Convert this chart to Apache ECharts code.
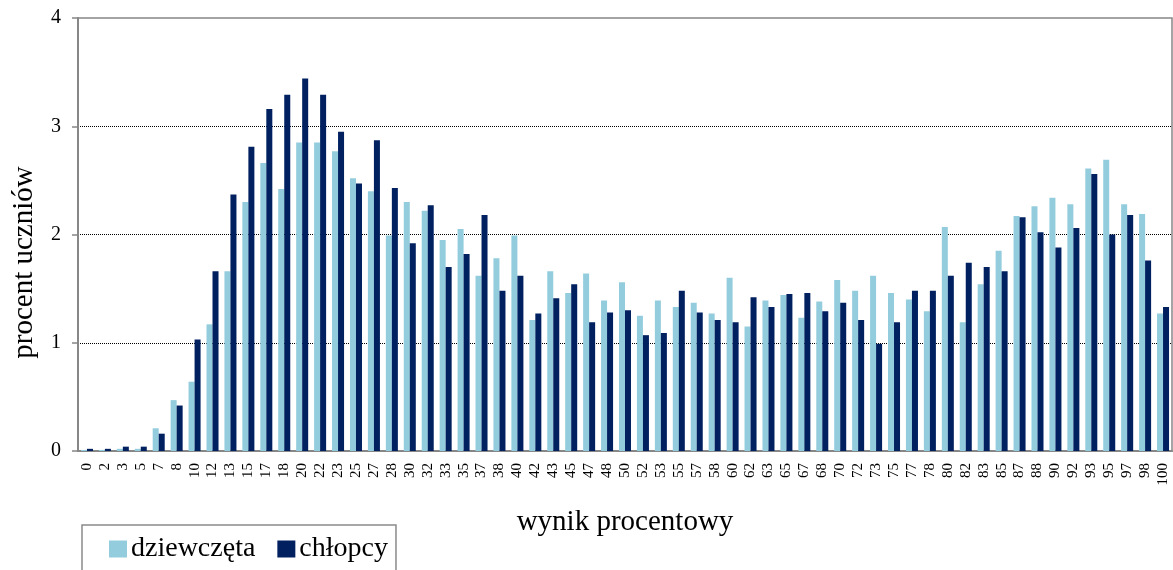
<!DOCTYPE html>
<html>
<head>
<meta charset="utf-8">
<script src="https://cdn.jsdelivr.net/npm/echarts@6/dist/echarts.min.js"></script>
<style>
  html, body { margin: 0; padding: 0; background: #fff; }
  #chart { width: 1173px; height: 570px; }
</style>
</head>
<body>
<div id="chart"></div>
<script>
// wynik procentowy (kategorie osi X)
const categories = ['0','2','3','5','7','8','10','12','13','15','17','18','20','22','23','25','27','28','30','32',
  '33','35','37','38','40','42','43','45','47','48','50','52','53','55','57','58','60','62','63','65',
  '67','68','70','72','73','75','77','78','80','82','83','85','87','88','90','92','93','95','97','98','100'];

// procent uczniów
const dziewczeta = [0.01,0.01,0.02,0.02,0.21,0.47,0.64,1.17,1.66,2.30,2.66,2.42,2.85,2.85,2.77,2.52,2.40,1.99,2.30,2.22,
  1.95,2.05,1.62,1.78,1.99,1.21,1.66,1.46,1.64,1.39,1.56,1.25,1.39,1.33,1.37,1.27,1.60,1.15,1.39,1.44,
  1.23,1.38,1.58,1.48,1.62,1.46,1.40,1.29,2.07,1.19,1.54,1.85,2.17,2.26,2.34,2.28,2.61,2.69,2.28,2.19,1.27];
const chlopcy = [0.02,0.02,0.04,0.04,0.16,0.42,1.03,1.66,2.37,2.81,3.16,3.29,3.44,3.29,2.95,2.47,2.87,2.43,1.92,2.27,
  1.70,1.82,2.18,1.48,1.62,1.27,1.41,1.54,1.19,1.28,1.30,1.07,1.09,1.48,1.28,1.21,1.19,1.42,1.33,1.45,
  1.46,1.29,1.37,1.21,0.99,1.19,1.48,1.48,1.62,1.74,1.70,1.66,2.16,2.02,1.88,2.06,2.56,2.00,2.18,1.76,1.33];

const yTicks = [0, 1, 2, 3, 4];

const serif = 'Liberation Serif';
const axisGray = '#878787';

const chart = echarts.init(document.getElementById('chart'));
chart.setOption({
  animation: false,
  grid: {
    left: 78,
    right: 1,
    top: 18,
    bottom: 119,
    show: true,
    borderColor: axisGray,
    borderWidth: 1.5
  },
  legend: {
    left: 82,
    top: 525,
    padding: [10, 8, 30, 27],
    borderColor: '#8a8a8a',
    borderWidth: 1.5,
    itemWidth: 18,
    itemHeight: 17,
    itemGap: 22,
    icon: 'rect',
    textStyle: { fontFamily: serif, fontSize: 28, color: '#000', padding: [0, 0, 0, -1] },
    data: ['dziewczęta', 'chłopcy']
  },
  xAxis: {
    type: 'category',
    data: categories,
    name: 'wynik procentowy',
    nameLocation: 'middle',
    nameGap: 57,
    nameTextStyle: { fontFamily: serif, fontSize: 29, color: '#000' },
    axisLine: { lineStyle: { color: axisGray, width: 2 } },
    axisTick: { length: 5, lineStyle: { color: axisGray, width: 1.5 } },
    axisLabel: {
      rotate: 90,
      interval: 0,
      margin: 12,
      fontFamily: serif,
      fontSize: 15,
      color: '#000'
    }
  },
  yAxis: {
    type: 'value',
    min: yTicks[0],
    max: yTicks[yTicks.length - 1],
    interval: 1,
    name: 'procent uczniów',
    nameLocation: 'middle',
    nameGap: 39,
    nameTextStyle: { fontFamily: serif, fontSize: 29, color: '#000', padding: [0, 56, 0, 0] },
    axisLine: { show: true, lineStyle: { color: axisGray, width: 2 } },
    axisTick: { show: true, length: 6, lineStyle: { color: axisGray, width: 1.5 } },
    axisLabel: { margin: 17, fontFamily: serif, fontSize: 20, color: '#000' },
    splitLine: {
      lineStyle: {
        type: 'dotted',
        width: 1,
        color: ['transparent', '#000', '#000', '#000', 'transparent']
      }
    }
  },
  series: [
    {
      name: 'dziewczęta',
      type: 'bar',
      data: dziewczeta,
      barGap: '0%',
      barCategoryGap: '33%',
      itemStyle: { color: '#93CDDD' }
    },
    {
      name: 'chłopcy',
      type: 'bar',
      data: chlopcy,
      itemStyle: { color: '#002060' }
    }
  ]
});
</script>
</body>
</html>
